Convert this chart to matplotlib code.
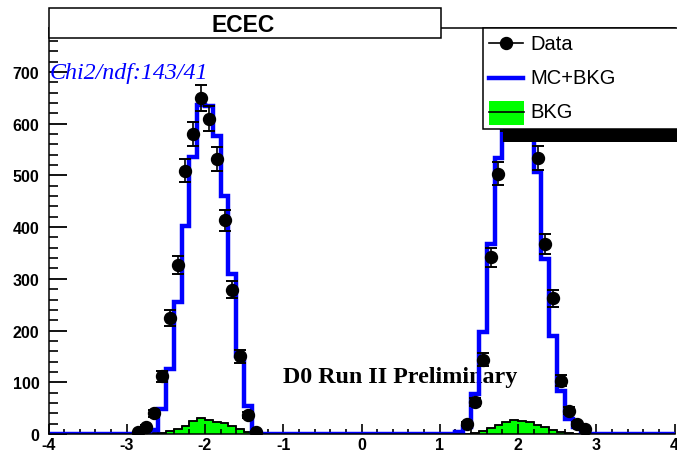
import numpy as np
import matplotlib
matplotlib.use("Agg")
import matplotlib.pyplot as plt
from matplotlib.patches import Rectangle
from matplotlib.lines import Line2D
from matplotlib.ticker import MultipleLocator

plt.rcParams["axes.unicode_minus"] = False

# ---------------- data ----------------
bin_width = 0.1
x_range = (-4.0, 4.0)
y_top = 785

# MC+BKG histogram contents (consecutive 0.1 bins starting at *_start)
mc_left_start = -2.8
mc_left = [3, 8, 48, 126, 255, 403, 535, 637, 635, 577, 460, 309, 151, 55, 4]
mc_right_start = 1.2
mc_right = [3, 13, 77, 197, 367, 533, 620, 655, 650, 610, 507, 338, 190, 84, 29, 13, 3]

# BKG histogram contents
bkg_left_start = -2.7
bkg_left = [1, 2, 6, 9, 16, 25, 30, 28, 24, 21, 15, 9, 3, 1]
bkg_right_start = 1.4
bkg_right = [2, 5, 12, 18, 24, 27, 26, 24, 18, 13, 8, 3, 1]

# Data bin contents
data_left_start = -2.9
data_left = [3, 13, 40, 112, 224, 327, 509, 580, 650, 610, 532, 413, 279, 150, 37, 4]
data_right_start = 1.3
data_right = [19, 62, 144, 342, 503, 610, 660, 650, 590, 533, 367, 262, 103, 45, 19, 10]

x_ticks = [-4, -3, -2, -1, 0, 1, 2, 3, 4]
y_ticks = [0, 100, 200, 300, 400, 500, 600, 700]

title = "ECEC"
chi2_text = "Chi2/ndf:143/41"
prelim_text = "D0 Run II Preliminary"
legend_labels = ["Data", "MC+BKG", "BKG"]

# ---------------- helpers ----------------
W, H = 677, 452
n_bins = int(round((x_range[1] - x_range[0]) / bin_width))
edges = np.round(np.linspace(x_range[0], x_range[1], n_bins + 1), 6)


def fill_hist(parts):
    h = np.zeros(n_bins)
    for start, vals in parts:
        i0 = int(round((start - x_range[0]) / bin_width))
        h[i0:i0 + len(vals)] = vals
    return h


mc_hist = fill_hist([(mc_left_start, mc_left), (mc_right_start, mc_right)])
bkg_hist = fill_hist([(bkg_left_start, bkg_left), (bkg_right_start, bkg_right)])
data_hist = fill_hist([(data_left_start, data_left), (data_right_start, data_right)])
centers = 0.5 * (edges[:-1] + edges[1:])
mask = data_hist > 0


def fx(px):
    return px / W


def fy(py):
    return 1 - py / H


# ---------------- figure ----------------
fig = plt.figure(figsize=(W / 100, H / 100), dpi=100)
ax_left, ax_right, ax_top, ax_bot = 48.5, 674.5, 29.0, 435.0
ax = fig.add_axes([fx(ax_left), fy(ax_bot), fx(ax_right) - fx(ax_left),
                   (ax_bot - ax_top) / H])

# preliminary label lies beneath the histograms
ax.text(fx(283), fy(383), prelim_text, transform=fig.transFigure,
        ha="left", va="baseline", color="black", fontfamily="Liberation Serif",
        fontweight="bold", fontsize=17.3, zorder=0.5)

ax.stairs(bkg_hist, edges, fill=True, facecolor=(0, 1, 0), edgecolor="black",
          linewidth=1.1, zorder=1)
ax.stairs(bkg_hist, edges, color="black", linewidth=1.1, zorder=1.5)
ax.stairs(mc_hist, edges, color=(0, 0, 1), linewidth=3.2, zorder=2)
ax.errorbar(centers[mask], data_hist[mask], yerr=np.sqrt(data_hist[mask]),
            fmt="o", color="black", markersize=8.6, elinewidth=1.2,
            capsize=4.3, capthick=1.4, zorder=3)

ax.set_xlim(*x_range)
ax.set_ylim(0, y_top)
ax.set_xticks(x_ticks)
ax.set_yticks(y_ticks)
ax.xaxis.set_minor_locator(MultipleLocator(0.2))
ax.yaxis.set_minor_locator(MultipleLocator(20))
ax.tick_params(axis="x", which="major", direction="in", length=7.2, width=1.2, pad=2.5)
ax.tick_params(axis="x", which="minor", direction="in", length=3.6, width=1.2)
ax.tick_params(axis="y", which="major", direction="in", length=13, width=1.3, pad=6.5)
ax.tick_params(axis="y", which="minor", direction="in", length=6.5, width=1.2)
ax.tick_params(top=False, right=False, which="both")
for lab in ax.get_xticklabels() + ax.get_yticklabels():
    lab.set_fontfamily("Liberation Sans")
    lab.set_fontweight("bold")
    lab.set_fontsize(11.5)
for s in ax.spines.values():
    s.set_linewidth(1.1)
ax.spines["right"].set_visible(False)

# title box
fig.add_artist(Rectangle((fx(48.5), fy(38.5)), fx(441) - fx(48.5), (38.5 - 9) / H,
                         transform=fig.transFigure, facecolor="white",
                         edgecolor="black", linewidth=1.1, zorder=5))
fig.text(fx(243), fy(25), title, ha="center", va="center",
         fontfamily="Liberation Sans", fontweight="bold", fontsize=16.5, zorder=6)

# legend shadow and box
fig.add_artist(Rectangle((fx(503), fy(143)), fx(720) - fx(503), (143 - 130) / H,
                         transform=fig.transFigure, facecolor="black",
                         edgecolor="black", linewidth=0, zorder=5))
fig.add_artist(Rectangle((fx(482.7), fy(130)), fx(720) - fx(482.7), (130 - 29) / H,
                         transform=fig.transFigure, facecolor="white",
                         edgecolor="black", linewidth=1.1, zorder=5.5))
# Data entry
fig.add_artist(Line2D([fx(489), fx(523)], [fy(44), fy(44)], color="black",
                      linewidth=1.2, transform=fig.transFigure, zorder=6))
fig.add_artist(Line2D([fx(506)], [fy(44)], marker="o", markersize=8.6, color="black",
                      transform=fig.transFigure, zorder=6))
# MC+BKG entry
fig.add_artist(Line2D([fx(489), fx(523)], [fy(79), fy(79)], color=(0, 0, 1),
                      linewidth=3.2, transform=fig.transFigure, zorder=6))
# BKG entry
fig.add_artist(Rectangle((fx(489), fy(126)), fx(524) - fx(489), (126 - 102) / H,
                         transform=fig.transFigure, facecolor=(0, 1, 0),
                         edgecolor="none", zorder=6))
fig.add_artist(Line2D([fx(489), fx(524)], [fy(113), fy(113)], color="black",
                      linewidth=1.2, transform=fig.transFigure, zorder=6.5))
for lab, py in zip(legend_labels, [44, 79, 113]):
    fig.text(fx(530), fy(py), lab, ha="left", va="center",
             fontfamily="Liberation Sans", fontsize=14.5, zorder=7)

# chi2 text
fig.text(fx(50), fy(79.5), chi2_text, ha="left", va="baseline", color=(0, 0, 1),
         fontfamily="Liberation Serif", fontstyle="italic", fontsize=17.3, zorder=7)

fig.savefig("out.png", dpi=100)
